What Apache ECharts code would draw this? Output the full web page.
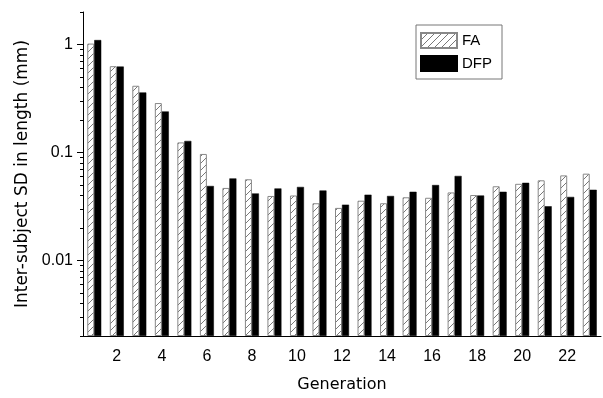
<!DOCTYPE html>
<html>
<head>
<meta charset="utf-8">
<script src="https://cdn.jsdelivr.net/npm/echarts@6/dist/echarts.min.js"></script>
<style>
  html, body { margin: 0; padding: 0; background: #fff; }
  #chart { width: 603px; height: 398px; }
</style>
</head>
<body>
<div id="chart"></div>
<script>
// ---------- data ----------
const generations = ["1", "2", "3", "4", "5", "6", "7", "8", "9", "10", "11", "12",
    "13", "14", "15", "16", "17", "18", "19", "20", "21", "22", "23"];

const faValues = [1.02, 0.63, 0.415, 0.287, 0.124, 0.097, 0.047, 0.0565, 0.0396, 0.040,
    0.0339, 0.0307, 0.0358, 0.0339, 0.0385, 0.0381, 0.0427, 0.0404, 0.0487, 0.0513,
    0.0553, 0.0614, 0.0637];

const dfpValues = [1.10, 0.625, 0.36, 0.24, 0.128, 0.049, 0.0576, 0.0418, 0.0465, 0.048,
    0.0445, 0.0329, 0.0407, 0.0396, 0.0433, 0.050, 0.0607, 0.040, 0.0433, 0.0524,
    0.0318, 0.0388, 0.0452];

const majorTicks = [0.01, 0.1, 1];
const minorTicks = [0.002, 0.003, 0.004, 0.005, 0.006, 0.007, 0.008, 0.009,
    0.02, 0.03, 0.04, 0.05, 0.06, 0.07, 0.08, 0.09,
    0.2, 0.3, 0.4, 0.5, 0.6, 0.7, 0.8, 0.9, 2];

const yMin = 0.002;
const yMax = 2;

// ---------- hatch pattern ----------
function makeHatch() {
    const size = 7;
    const c = document.createElement("canvas");
    c.width = size;
    c.height = size;
    const ctx = c.getContext("2d");
    ctx.fillStyle = "#fff";
    ctx.fillRect(0, 0, size, size);
    ctx.strokeStyle = "#555";
    ctx.lineWidth = 0.8;
    ctx.beginPath();
    ctx.moveTo(-1, size + 1);
    ctx.lineTo(size + 1, -1);
    ctx.moveTo(-1, 1);
    ctx.lineTo(1, -1);
    ctx.moveTo(size - 1, size + 1);
    ctx.lineTo(size + 1, size - 1);
    ctx.stroke();
    return c;
}

const font = "Liberation Sans, Arial, sans-serif";
const titleFont = "DejaVu Sans, sans-serif";
const chart = echarts.init(document.getElementById("chart"));

chart.setOption({
    animation: false,
    textStyle: { fontFamily: font },
    legend: {
        orient: "vertical",
        left: 416,
        top: 25,
        padding: [7, 10, 7, 4],
        itemWidth: 36,
        itemHeight: 15,
        itemGap: 6,
        borderColor: "#777",
        borderWidth: 1,
        icon: "rect",
        textStyle: { fontSize: 15, color: "#000", fontFamily: font },
        data: ["FA", "DFP"]
    },
    grid: {
        left: 83,
        right: 2,
        top: 12,
        bottom: 57
    },
    xAxis: {
        type: "category",
        data: generations,
        name: "Generation",
        nameLocation: "middle",
        nameGap: 41,
        nameTextStyle: { fontSize: 16, color: "#000", fontFamily: titleFont },
        axisLine: { lineStyle: { color: "#000", width: 1 } },
        axisTick: {
            alignWithLabel: true,
            length: 6,
            interval: (i, v) => Number(v) % 2 === 0,
            lineStyle: { color: "#000" }
        },
        axisLabel: {
            interval: (i, v) => Number(v) % 2 === 0,
            margin: 13,
            fontSize: 16,
            color: "#000",
            fontFamily: font
        }
    },
    yAxis: [{
        type: "log",
        min: yMin,
        max: yMax,
        startValue: yMin,
        name: "Inter-subject SD in length (mm)",
        nameLocation: "middle",
        nameGap: 47,
        nameTextStyle: { fontSize: 17, color: "#000", fontFamily: titleFont },
        splitLine: { show: false },
        axisLine: { show: true, lineStyle: { color: "#000", width: 1 } },
        axisTick: {
            show: true,
            length: 6,
            customValues: majorTicks,
            lineStyle: { color: "#000" }
        },
        axisLabel: {
            customValues: majorTicks,
            margin: 10,
            fontSize: 16,
            color: "#000",
            fontFamily: font
        }
    }, {
        type: "log",
        min: yMin,
        max: yMax,
        position: "left",
        splitLine: { show: false },
        axisLine: { show: false },
        axisTick: {
            show: true,
            length: 3,
            customValues: minorTicks,
            lineStyle: { color: "#000" }
        },
        axisLabel: { show: false }
    }],
    series: [{
        name: "FA",
        type: "bar",
        data: faValues,
        barWidth: 7,
        barGap: "0%",
        itemStyle: {
            color: { image: makeHatch(), repeat: "repeat" },
            borderColor: "#888",
            borderWidth: 1
        }
    }, {
        name: "DFP",
        type: "bar",
        data: dfpValues,
        barWidth: 7,
        barGap: "0%",
        itemStyle: {
            color: "#000",
            borderColor: "#000",
            borderWidth: 0.5
        }
    }]
});
</script>
</body>
</html>
